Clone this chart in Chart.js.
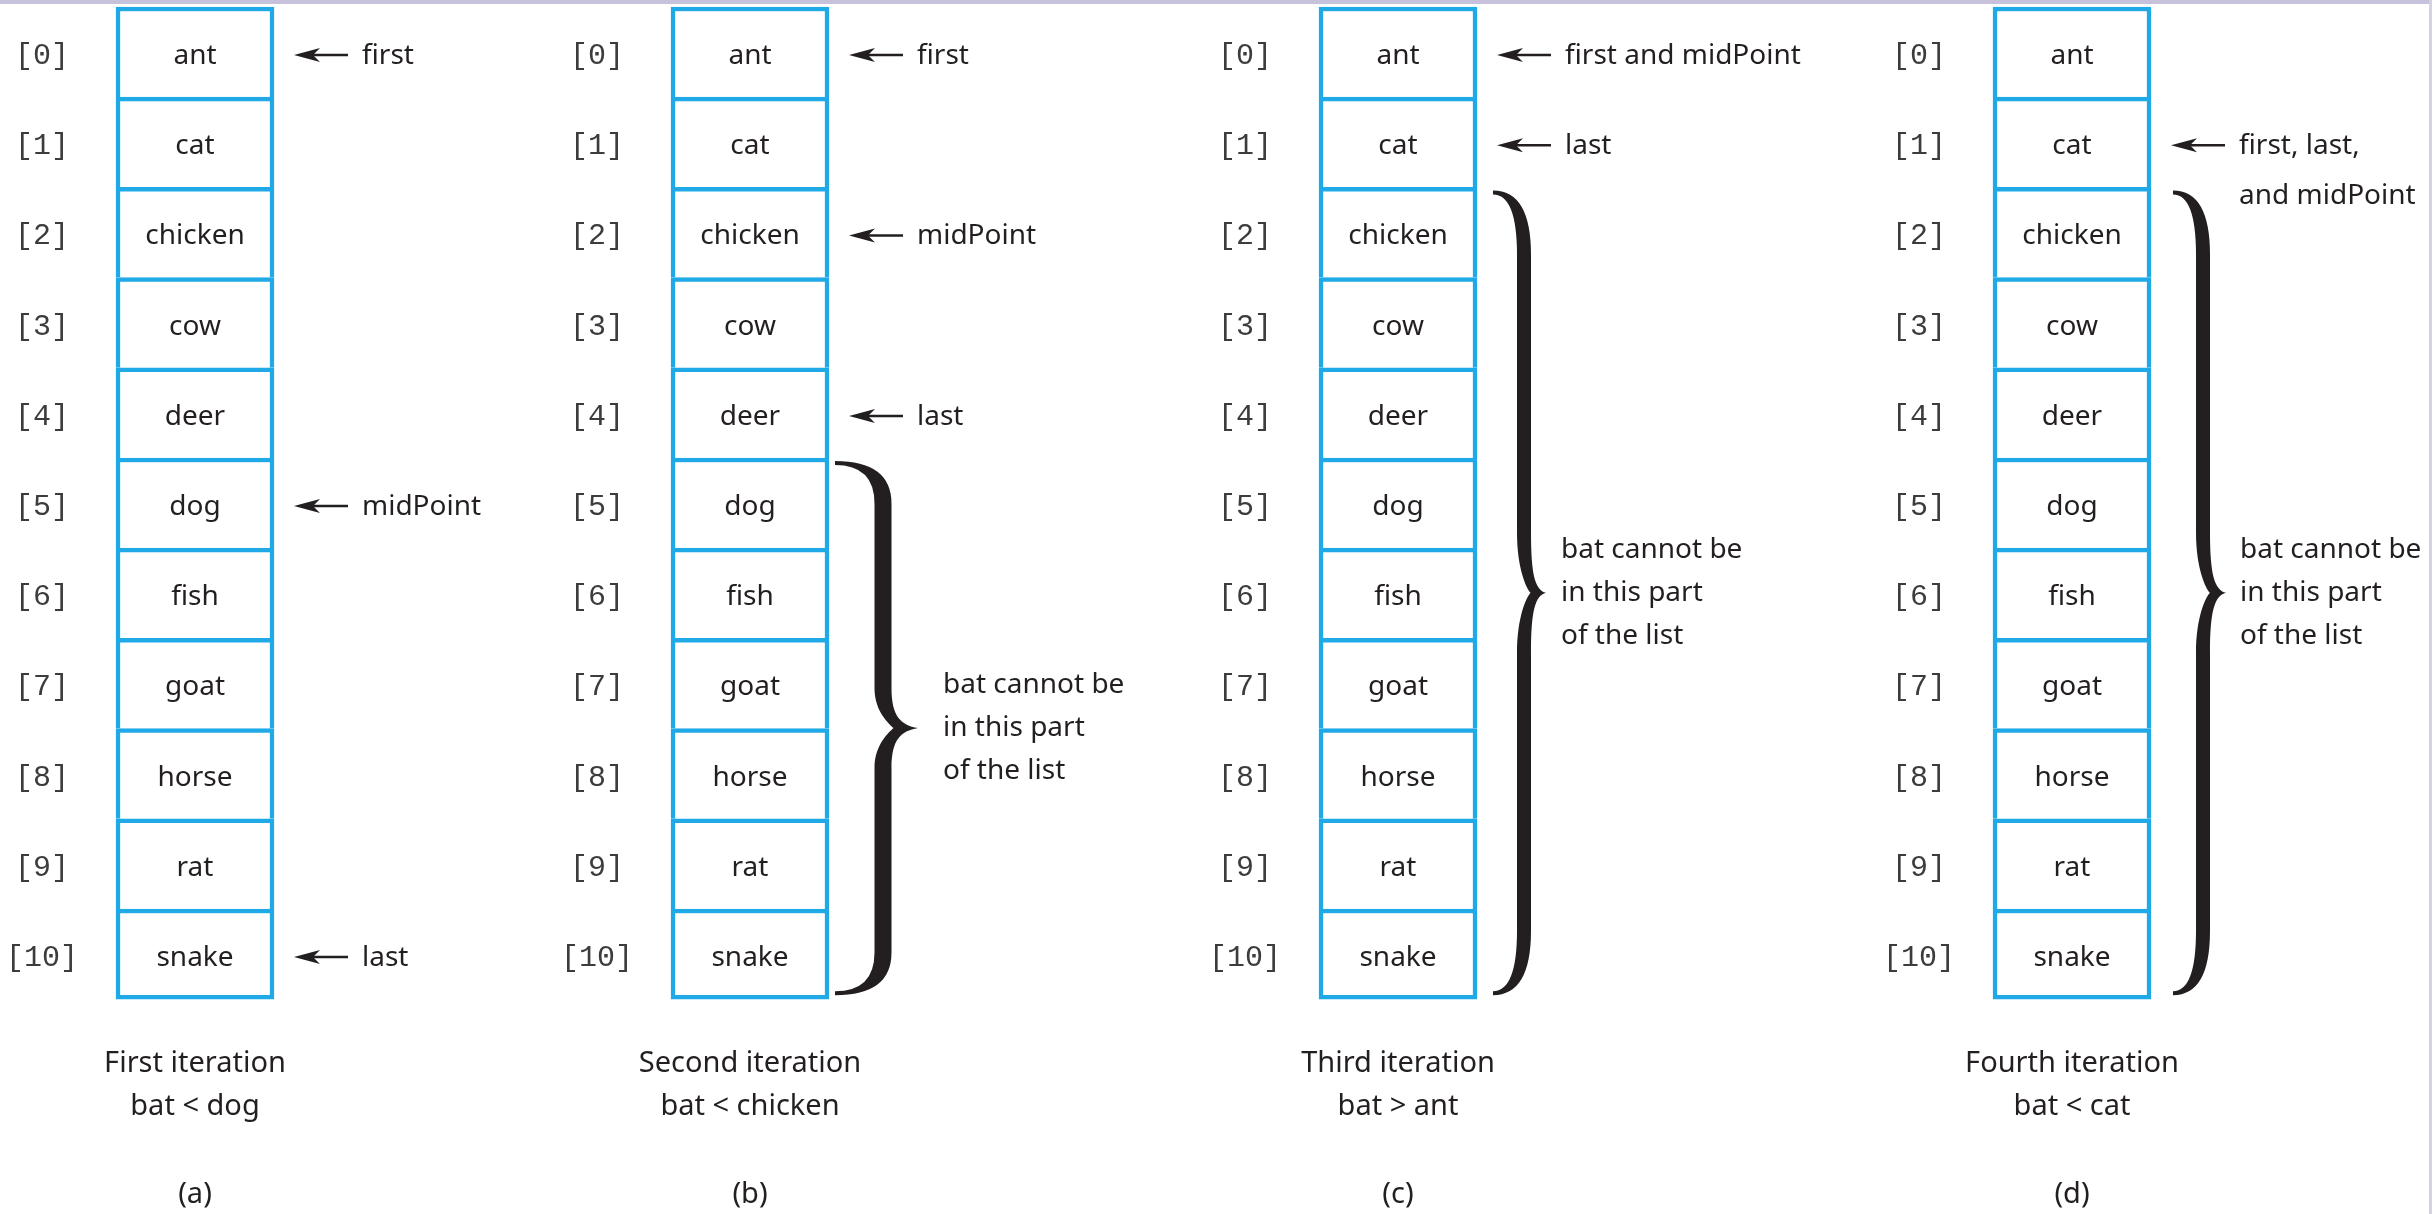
<!DOCTYPE html>
<html>
<head>
<meta charset="utf-8">
<script src="https://cdn.jsdelivr.net/npm/chart.js@4/dist/chart.umd.min.js"></script>
<style>
  html, body { margin: 0; padding: 0; background: #fff; }
  canvas { display: block; }
</style>
</head>
<body>
<canvas id="search" width="2432" height="1214"></canvas>
<script>
// Contents of the list, same in every iteration
const words = ['ant', 'cat', 'chicken', 'cow', 'deer', 'dog', 'fish', 'goat', 'horse', 'rat', 'snake'];
const indexLabels = ['[0]', '[1]', '[2]', '[3]', '[4]', '[5]', '[6]', '[7]', '[8]', '[9]', '[10]'];

// One entry per iteration
const iterationTitles = ['First iteration', 'Second iteration', 'Third iteration', 'Fourth iteration'];
const comparisons = ['bat < dog', 'bat < chicken', 'bat > ant', 'bat < cat'];
const panelTags = ['(a)', '(b)', '(c)', '(d)'];
const firstIdx = [0, 0, 0, 1];
const midIdx = [5, 2, 0, 1];
const lastIdx = [10, 4, 1, 1];
// rows ruled out after the comparison (null = none drawn)
const excludedFrom = [null, 5, 2, 2];
const excludedTo = [null, 10, 10, 10];
const excludedNote = ['bat cannot be', 'in this part', 'of the list'];

// Layout (pixels)
const columnLeft = [116, 671, 1319, 1993];
const BOX_W = 158;
const ROW_H = 90.2;
const TOP = 7;
const TEXT_DY = 4;
const braceStyle = [
    null,
    { end: 6, spine: 54, tip: 89, text: 114, half: 8.5 },
    { end: 16, spine: 47, tip: 69, text: 84, half: 7 },
    { end: 22, spine: 52, tip: 75, text: 89, half: 7 }
];

const BLUE = '#1fa9e6';
const INK = '#231f20';
const SANS = '"Noto Sans", "Open Sans", sans-serif';

/**
 * Groups first / last / midPoint by row and builds the arrow labels
 */
function pointerNotes(k) {
    const groups = {};
    [['first', firstIdx[k]], ['last', lastIdx[k]], ['midPoint', midIdx[k]]].forEach(function (p) {
        (groups[p[1]] = groups[p[1]] || []).push(p[0]);
    });
    return Object.keys(groups).map(function (row) {
        const n = groups[row];
        let lines;
        if (n.length === 1) lines = [n[0]];
        else if (n.length === 2) lines = [n[0] + ' and ' + n[1]];
        else lines = [n[0] + ', ' + n[1] + ',', 'and ' + n[2]];
        return { row: +row, lines: lines };
    });
}

function cellDatasets() {
    return iterationTitles.map(function (title, k) {
        return {
            label: title,
            data: words.map(function (w, i) {
                return { x: columnLeft[k] + BOX_W / 2, y: [i, i + 1] };
            }),
            backgroundColor: '#ffffff',
            borderColor: BLUE,
            borderSkipped: false,
            borderWidth: function (ctx) {
                return ctx.dataIndex === words.length - 1
                    ? 4.5
                    : { top: 4.5, left: 4.5, right: 4.5, bottom: 0 };
            },
            barThickness: BOX_W,
            grouped: false
        };
    });
}

function drawArrow(ctx, xTip, xTail, y) {
    ctx.save();
    ctx.strokeStyle = INK;
    ctx.fillStyle = INK;
    ctx.lineWidth = 2.5;
    ctx.beginPath();
    ctx.moveTo(xTip + 12, y);
    ctx.lineTo(xTail, y);
    ctx.stroke();
    ctx.beginPath();
    ctx.moveTo(xTip, y);
    ctx.lineTo(xTip + 26, y - 7);
    ctx.lineTo(xTip + 19, y);
    ctx.lineTo(xTip + 26, y + 7);
    ctx.closePath();
    ctx.fill();
    ctx.restore();
}

function drawBrace(ctx, R, yT, yB, st) {
    const xe = R + st.end, xs = R + st.spine, xt = R + st.tip;
    const sw = st.half, yM = (yT + yB) / 2;
    const h = yB - yT;
    const r = h * 0.08, r2 = h * 0.075, t = 4;
    const xn = xs + (xt - xs) * 0.3;
    ctx.save();
    ctx.fillStyle = INK;
    ctx.beginPath();
    ctx.moveTo(xe, yT);
    ctx.quadraticCurveTo(xs + sw, yT, xs + sw, yT + r);
    ctx.lineTo(xs + sw, yM - r2);
    ctx.bezierCurveTo(xs + sw, yM - r2 * 0.3, xs + (xt - xs) * 0.5, yM - 3, xt, yM);
    ctx.bezierCurveTo(xs + (xt - xs) * 0.5, yM + 3, xs + sw, yM + r2 * 0.3, xs + sw, yM + r2);
    ctx.lineTo(xs + sw, yB - r);
    ctx.quadraticCurveTo(xs + sw, yB, xe, yB);
    ctx.lineTo(xe, yB - t);
    ctx.quadraticCurveTo(xs - sw, yB - t, xs - sw, yB - r);
    ctx.lineTo(xs - sw, yM + r2);
    ctx.bezierCurveTo(xs - sw, yM + r2 * 0.4, xn - 4, yM + 4, xn, yM);
    ctx.bezierCurveTo(xn - 4, yM - 4, xs - sw, yM - r2 * 0.4, xs - sw, yM - r2);
    ctx.lineTo(xs - sw, yT + r);
    ctx.quadraticCurveTo(xs - sw, yT + t, xe, yT + t);
    ctx.closePath();
    ctx.fill();
    ctx.restore();
}

const annotations = {
    id: 'annotations',
    beforeDraw: function (chart) {
        const ctx = chart.ctx;
        ctx.save();
        ctx.fillStyle = '#ffffff';
        ctx.fillRect(0, 0, chart.width, chart.height);
        ctx.fillStyle = '#c6c2dc';
        ctx.fillRect(0, 0, chart.width, 4);
        ctx.fillStyle = '#d3d1e2';
        ctx.fillRect(chart.width - 3, 0, 3, chart.height);
        ctx.restore();
    },
    afterDatasetsDraw: function (chart) {
        const ctx = chart.ctx;
        const x = chart.scales.x, y = chart.scales.y;
        ctx.save();
        ctx.textBaseline = 'middle';
        iterationTitles.forEach(function (title, k) {
            const L = x.getPixelForValue(columnLeft[k]);
            const R = x.getPixelForValue(columnLeft[k] + BOX_W);
            const cx = (L + R) / 2;

            words.forEach(function (w, i) {
                const yc = y.getPixelForValue(i + 0.5) + TEXT_DY;
                ctx.fillStyle = INK;
                ctx.textAlign = 'center';
                ctx.font = '28px ' + SANS;
                ctx.fillText(w, cx, yc);
                ctx.fillStyle = '#3c3c3c';
                ctx.font = '30px "Liberation Mono", "DejaVu Sans Mono", monospace';
                ctx.fillText(indexLabels[i], L - 74, yc);
            });

            pointerNotes(k).forEach(function (p) {
                const yc = y.getPixelForValue(p.row + 0.5);
                drawArrow(ctx, R + 20, R + 74, yc + 3);
                ctx.fillStyle = INK;
                ctx.textAlign = 'left';
                ctx.font = '28px ' + SANS;
                p.lines.forEach(function (line, j) {
                    ctx.fillText(line, R + 88, yc + TEXT_DY + j * 50);
                });
            });

            if (excludedFrom[k] !== null) {
                const st = braceStyle[k];
                const yT = y.getPixelForValue(excludedFrom[k]) + 3;
                const yB = y.getPixelForValue(excludedTo[k] + 1) - 4;
                drawBrace(ctx, R, yT, yB, st);
                const yM = (yT + yB) / 2;
                ctx.fillStyle = INK;
                ctx.textAlign = 'left';
                ctx.font = '28px ' + SANS;
                excludedNote.forEach(function (line, j) {
                    ctx.fillText(line, R + st.text, yM + (j - 1) * 43);
                });
            }

            const yBottom = y.getPixelForValue(words.length);
            ctx.fillStyle = INK;
            ctx.textAlign = 'center';
            ctx.font = '29px ' + SANS;
            ctx.fillText(title, cx, yBottom + 65);
            ctx.fillText(comparisons[k], cx, yBottom + 108);
            ctx.fillText(panelTags[k], cx, yBottom + 196);
        });
        ctx.restore();
    }
};

new Chart(document.getElementById('search').getContext('2d'), {
    type: 'bar',
    data: { datasets: cellDatasets() },
    options: {
        responsive: false,
        devicePixelRatio: 1,
        animation: false,
        layout: { padding: 0 },
        plugins: { legend: { display: false }, tooltip: { enabled: false } },
        scales: {
            x: { type: 'linear', min: 0, max: 2432, offset: false, display: false },
            y: {
                type: 'linear',
                reverse: true,
                min: -TOP / ROW_H,
                max: (1214 - TOP) / ROW_H,
                display: false
            }
        }
    },
    plugins: [annotations]
});
</script>
</body>
</html>
